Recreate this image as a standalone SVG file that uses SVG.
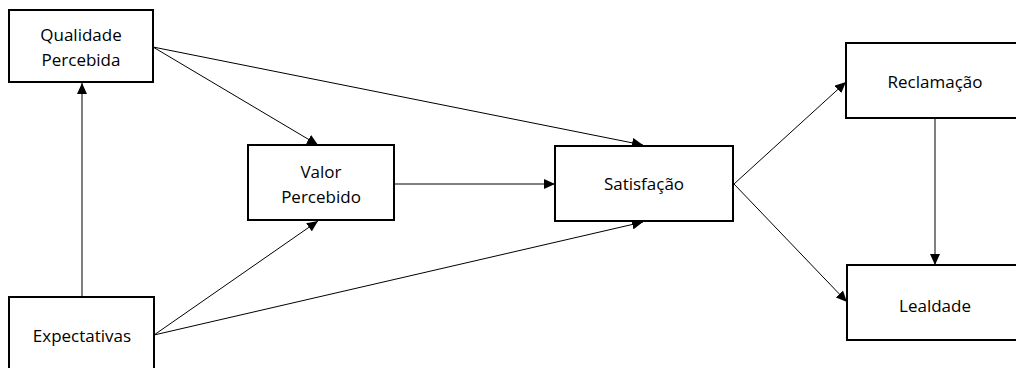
<svg xmlns="http://www.w3.org/2000/svg" width="1016" height="368" viewBox="0 0 1016 368">
<style>
.box{fill:#fff;stroke:#000;stroke-width:2}
.lbl{font-family:"Open Sans","Liberation Sans",sans-serif;font-size:17px;fill:#000;text-anchor:middle}
.edge{stroke:#000;stroke-width:1;fill:none;marker-end:url(#ah)}
</style>
<defs>
<marker id="ah" markerUnits="userSpaceOnUse" markerWidth="12" markerHeight="10" refX="11" refY="5" orient="auto">
<path d="M0,0 L11,5 L0,10 Z" fill="#000"/>
</marker>
</defs>
<rect width="1016" height="368" fill="#fff"/>
<g id="connectors">
<line class="edge" x1="82" y1="297" x2="82" y2="83"/>
<line class="edge" x1="153" y1="47" x2="318" y2="145"/>
<line class="edge" x1="153" y1="47" x2="643" y2="145"/>
<line class="edge" x1="154" y1="335" x2="318" y2="221"/>
<line class="edge" x1="154" y1="335" x2="643" y2="222"/>
<line class="edge" x1="394" y1="184" x2="555" y2="184"/>
<line class="edge" x1="734" y1="184" x2="846" y2="82"/>
<line class="edge" x1="734" y1="184" x2="847" y2="302"/>
<line class="edge" x1="935" y1="118" x2="935" y2="265"/>
</g>
<g id="qualidade">
<rect class="box" x="9" y="10" width="144" height="72"/>
<text class="lbl" x="81" y="41">Qualidade</text>
<text class="lbl" x="81" y="66">Percebida</text>
</g>
<g id="expectativas">
<rect class="box" x="9" y="297" width="145" height="80"/>
<text class="lbl" x="82" y="342">Expectativas</text>
</g>
<g id="valor">
<rect class="box" x="248" y="145" width="146" height="75"/>
<text class="lbl" x="321" y="178">Valor</text>
<text class="lbl" x="321" y="203">Percebido</text>
</g>
<g id="satisfacao">
<rect class="box" x="555" y="146" width="178" height="75"/>
<text class="lbl" x="644" y="190">Satisfação</text>
</g>
<g id="reclamacao">
<rect class="box" x="846" y="43" width="180" height="75"/>
<text class="lbl" x="935" y="88">Reclamação</text>
</g>
<g id="lealdade">
<rect class="box" x="847" y="265" width="180" height="75"/>
<text class="lbl" x="935" y="312">Lealdade</text>
</g>
</svg>
